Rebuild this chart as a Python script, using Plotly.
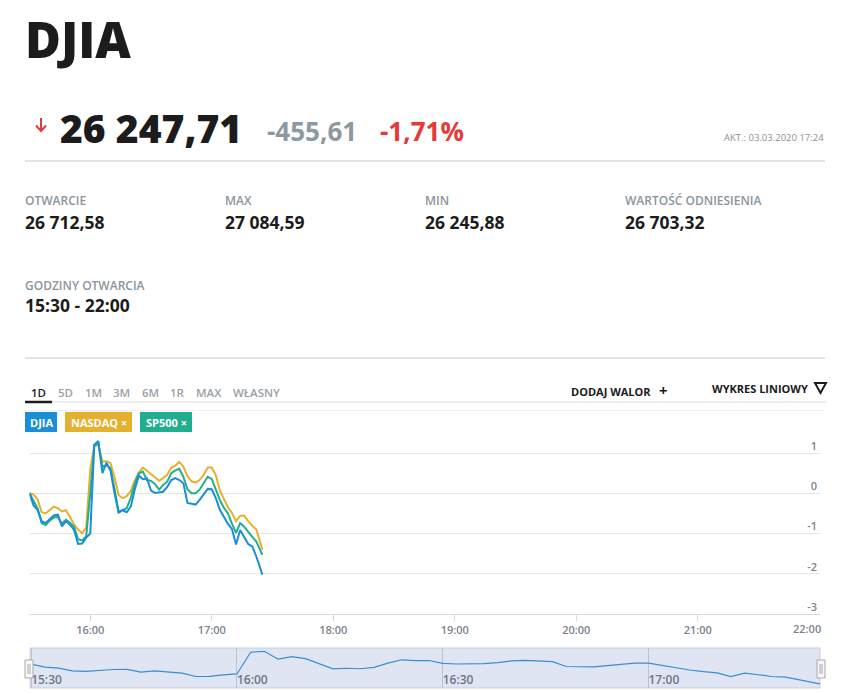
import plotly.graph_objects as go

W, H = 842, 694
DAY = "2020-03-03 "

# ---------------- data ----------------
TIMES = ["15:30", "15:32", "15:34", "15:36", "15:38", "15:40", "15:42", "15:44", "15:46", "15:48",
         "15:50", "15:52", "15:54", "15:56", "15:58", "16:00", "16:02", "16:04", "16:06", "16:08",
         "16:10", "16:12", "16:14", "16:16", "16:18", "16:20", "16:22", "16:24", "16:26", "16:28",
         "16:30", "16:32", "16:34", "16:36", "16:38", "16:40", "16:42", "16:44", "16:46", "16:48",
         "16:50", "16:52", "16:54", "16:56", "16:58", "17:00", "17:02", "17:04", "17:06", "17:08",
         "17:10", "17:12", "17:14", "17:16", "17:18", "17:20", "17:22", "17:25"]

DJIA = [0.00, -0.30, -0.41, -0.69, -0.74, -0.64, -0.55, -0.53, -0.82, -0.69,
        -0.78, -0.91, -1.26, -1.25, -1.10, -1.00, 1.21, 1.30, 0.50, 0.76,
        0.56, 0.00, -0.48, -0.42, -0.47, -0.33, 0.10, 0.44, 0.35, 0.37,
        0.07, 0.01, 0.02, 0.04, 0.16, 0.33, 0.38, 0.33, 0.25, -0.24,
        -0.26, -0.28, -0.16, -0.02, 0.11, 0.10, -0.12, -0.41, -0.60, -0.76,
        -0.89, -1.27, -0.91, -1.08, -1.26, -1.32, -1.57, -2.02]

NASDAQ = [0.00, -0.03, -0.15, -0.47, -0.50, -0.41, -0.33, -0.37, -0.45, -0.42,
          -0.59, -0.77, -0.90, -0.99, -0.85, 0.60, 1.19, 1.20, 0.79, 0.80,
          0.75, 0.40, -0.04, -0.12, -0.07, 0.06, 0.32, 0.52, 0.64, 0.56,
          0.47, 0.38, 0.31, 0.38, 0.46, 0.64, 0.69, 0.78, 0.66, 0.43,
          0.30, 0.27, 0.33, 0.46, 0.64, 0.64, 0.45, 0.07, -0.15, -0.35,
          -0.49, -0.69, -0.56, -0.55, -0.69, -0.81, -0.90, -1.40]

SP500 = [0.00, -0.21, -0.38, -0.74, -0.79, -0.68, -0.60, -0.59, -0.75, -0.66,
         -0.73, -0.83, -1.14, -1.17, -1.07, 0.00, 1.20, 1.23, 0.66, 0.70,
         0.62, 0.11, -0.46, -0.41, -0.37, -0.11, 0.25, 0.50, 0.54, 0.33,
         0.31, 0.23, 0.09, 0.21, 0.29, 0.50, 0.57, 0.61, 0.41, 0.10,
         0.00, 0.00, 0.09, 0.25, 0.41, 0.36, 0.08, -0.17, -0.36, -0.50,
         -0.76, -0.98, -0.74, -0.83, -0.96, -1.09, -1.20, -1.53]

Y_TICKS = [-3, -2, -1, 0, 1]
X_TICKS = ["16:00", "17:00", "18:00", "19:00", "20:00", "21:00", "22:00"]
NAV_TICKS = ["15:30", "16:00", "16:30", "17:00"]
X_START, X_END = "15:30", "22:00:20"
NAV_START, NAV_END = "15:29:50", "17:25"

TITLE = "DJIA"
PRICE = "26 247,71"
CHANGE = "-455,61"
CHANGE_PCT = "-1,71%"
UPDATED = "AKT.: 03.03.2020 17:24"
STATS_LABELS = ["OTWARCIE", "MAX", "MIN", "WARTOŚĆ ODNIESIENIA"]
STATS_VALUES = ["26 712,58", "27 084,59", "26 245,88", "26 703,32"]
HOURS_LABEL = "GODZINY OTWARCIA"
HOURS_VALUE = "15:30 - 22:00"
TABS = ["1D", "5D", "1M", "3M", "6M", "1R", "MAX", "WŁASNY"]
CHIPS = ["DJIA", "NASDAQ ×", "SP500 ×"]

# ---------------- styles ----------------
C_DJIA, C_NASDAQ, C_SP = "#1b8ed8", "#e6b02f", "#20ae8f"
DARK, GRAY, RED = "#1c1c1c", "#8c949c", "#e53a3a"
AXIS_TEXT = "#7b838d"
FONT = "Open Sans"


def px(x):
    return x / W


def py(y):
    return 1 - y / H


t = [DAY + s for s in TIMES]

fig = go.Figure()
for name, vals, col in [("NASDAQ", NASDAQ, C_NASDAQ), ("SP500", SP500, C_SP), ("DJIA", DJIA, C_DJIA)]:
    fig.add_trace(go.Scatter(x=t, y=vals, mode="lines", name=name,
                             line=dict(color=col, width=2), xaxis="x", yaxis="y",
                             hoverinfo="skip"))

# navigator line
fig.add_trace(go.Scatter(x=t, y=DJIA, mode="lines", line=dict(color="#3b8dd0", width=1.2),
                         xaxis="x2", yaxis="y2", hoverinfo="skip"))

shapes = []
annotations = []


def text(x, y, s, size, color, weight=400, xanchor="left", yanchor="middle"):
    annotations.append(dict(x=px(x), y=py(y), xref="paper", yref="paper", text=s, showarrow=False,
                            xanchor=xanchor, yanchor=yanchor,
                            font=dict(family=FONT, size=size, color=color, weight=weight)))


def line(x0, y0, x1, y1, color, width=1):
    shapes.append(dict(type="line", xref="paper", yref="paper", x0=px(x0), x1=px(x1),
                       y0=py(y0), y1=py(y1), line=dict(color=color, width=width)))


def hline(y, x0, x1, color, width=1):
    line(x0, y, x1, y, color, width)


def rect(x0, y0, x1, y1, fill, line_color=None, lw=0, layer="above"):
    shapes.append(dict(type="rect", xref="paper", yref="paper", x0=px(x0), x1=px(x1),
                       y0=py(y1), y1=py(y0), fillcolor=fill, layer=layer,
                       line=dict(color=line_color or fill, width=lw)))


# header
text(23, 39, TITLE, 49, DARK, 800)
# red down arrow
line(41, 118, 41, 131, RED, 2)
shapes.append(dict(type="path", xref="paper", yref="paper",
                   path="M %f,%f L %f,%f L %f,%f" % (px(36), py(125.5), px(41), py(131), px(46), py(125.5)),
                   line=dict(color=RED, width=2), fillcolor="rgba(0,0,0,0)"))
text(58, 127, PRICE, 39, DARK, 800)
text(265, 131, CHANGE, 26, "#8e989f", 700)
text(378, 131, CHANGE_PCT, 26, RED, 700)
text(826, 137, UPDATED, 9.5, "#8f8f8f", 400, xanchor="right")
hline(161, 25, 825, "#e1e5ea", 2)

# stats
cols = [25, 225, 425, 625]
for cx, lab, val in zip(cols, STATS_LABELS, STATS_VALUES):
    text(cx - 2, 201, lab, 12, GRAY, 600)
    text(cx - 2, 222, val, 17.5, DARK, 700)
text(23, 285, HOURS_LABEL, 12, GRAY, 600)
text(23, 305, HOURS_VALUE, 17.5, DARK, 700)
hline(358, 25, 825, "#e1e5ea", 2)

# tabs
tab_x = [29, 56, 83, 111, 140, 168, 194, 231]
for i, (tx, tab) in enumerate(zip(tab_x, TABS)):
    text(tx, 392, tab, 11.5, DARK if i == 0 else "#9aa1a8", 600)
hline(402, 25, 827, "#e6e9ed", 1.5)
hline(402, 25, 52, "#1c1c1c", 2.5)
text(569, 391, "DODAJ WALOR", 11, DARK, 700)
text(657, 390, "+", 15, DARK, 700)
text(710, 388, "WYKRES LINIOWY", 11, DARK, 700)
shapes.append(dict(type="path", xref="paper", yref="paper",
                   path="M %f,%f L %f,%f L %f,%f Z" % (px(815), py(383), px(826), py(383), px(820.5), py(393)),
                   line=dict(color=DARK, width=2), fillcolor="rgba(0,0,0,0)"))
hline(410.5, 25, 825, "#eef0f2", 1)

# chips
chip_pos = [(25, 57), (65, 132), (140, 192)]
for (x0, x1), lab, col in zip(chip_pos, CHIPS, [C_DJIA, C_NASDAQ, C_SP]):
    rect(x0, 412, x1, 432, col)
    text((x0 + x1) / 2, 422.5, lab, 11, "white", 700, xanchor="center")

# last x-axis label: kept inside the chart edge (right-aligned), as in the reference
annotations.append(dict(x=DAY + X_TICKS[-1], y=py(628), xref="x", yref="paper",
                        text=X_TICKS[-1], showarrow=False, xanchor="right", yanchor="middle",
                        xshift=4,
                        font=dict(family=FONT, size=11, color=AXIS_TEXT, weight=600)))

# navigator background and handles
rect(30, 648, 820, 688, "#dfe5f2", "#c7cedb", 1, layer="below")
for hx in (25, 817):
    rect(hx, 660, hx + 8, 678, "#f7f7f7", "#a9a9a9", 1)
    for lx in (hx + 3, hx + 5):
        line(lx, 664, lx, 674, "#a9a9a9", 1)

fig.update_layout(
    width=W, height=H, autosize=False,
    margin=dict(l=0, r=0, t=0, b=0, pad=0, autoexpand=False),
    paper_bgcolor="white", plot_bgcolor="rgba(0,0,0,0)",
    showlegend=False,
    font=dict(family=FONT),
    shapes=shapes, annotations=annotations,
    xaxis=dict(domain=[px(29.5), px(820)], anchor="y", automargin=False,
               range=[DAY + X_START, DAY + X_END], type="date",
               tickmode="array", tickvals=[DAY + h for h in X_TICKS],
               ticktext=X_TICKS[:-1] + [""],
               ticklabeloverflow="allow",
               showgrid=False, zeroline=False,
               showline=True, linecolor="#d5dbe3", linewidth=1,
               ticks="outside", ticklen=6, tickcolor="#d5dbe3",
               tickfont=dict(size=11, color=AXIS_TEXT, weight=600),
               fixedrange=True),
    yaxis=dict(domain=[py(614), py(433)], anchor="x", range=[-3, 1.5], automargin=False,
               side="right", tickvals=Y_TICKS, ticktext=[str(v) for v in Y_TICKS],
               ticklabelposition="inside", ticklabelshift=-7,
               showgrid=True, gridcolor="#e4e6ea", gridwidth=1, zeroline=False,
               showline=False, ticks="",
               tickfont=dict(size=11, color=AXIS_TEXT, weight=600),
               fixedrange=True),
    xaxis2=dict(domain=[px(30), px(820)], anchor="y2", automargin=False,
                range=[DAY + NAV_START, DAY + NAV_END], type="date",
                tickmode="array", tickvals=[DAY + h for h in NAV_TICKS], ticktext=NAV_TICKS,
                showgrid=True, gridcolor="#b9c2d5", gridwidth=1, zeroline=False,
                showline=False, ticks="", ticklabelposition="inside right",
                ticklabelstandoff=-4,
                tickfont=dict(size=12, color="#6c7789", weight=600),
                fixedrange=True),
    yaxis2=dict(domain=[py(688), py(648)], anchor="x2", range=[-2.43, 1.64], automargin=False,
                visible=False, showgrid=False, fixedrange=True),
)

fig.write_html("out.html", config={"displayModeBar": False})
